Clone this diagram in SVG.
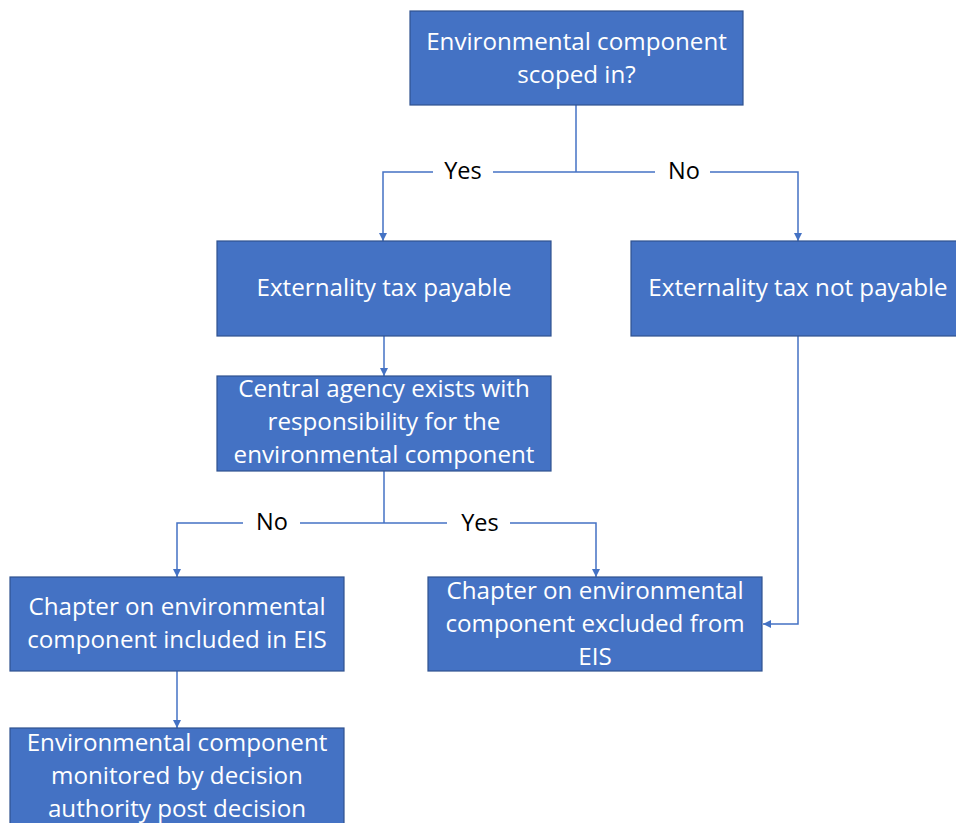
<svg xmlns="http://www.w3.org/2000/svg" width="956" height="823" viewBox="0 0 956 823">
<style>
.box{fill:#4472C4;stroke:#2F528F;stroke-width:1.2}
.t{font-family:"Open Sans","Liberation Sans",sans-serif;font-size:24.2px;fill:#ffffff;text-anchor:middle}
.lbl{font-family:"Open Sans","Liberation Sans",sans-serif;font-size:23.5px;fill:#000000;text-anchor:middle}
.ln{fill:none;stroke:#4472C4;stroke-width:1.5}
</style>
<defs>
<marker id="ah" viewBox="0 0 10 10" refX="10" refY="5" markerWidth="8" markerHeight="8" markerUnits="userSpaceOnUse" orient="auto">
<path d="M0,0 L10,5 L0,10 z" fill="#4472C4"/>
</marker>
</defs>
<rect width="956" height="823" fill="#ffffff"/>
<g id="connectors">
<path class="ln" d="M576,105 V172"/>
<path class="ln" d="M433,172 H383 V241" marker-end="url(#ah)"/>
<path class="ln" d="M493,172 H655"/>
<path class="ln" d="M710,172 H798 V241" marker-end="url(#ah)"/>
<path class="ln" d="M384,336 V376" marker-end="url(#ah)"/>
<path class="ln" d="M384,471 V523"/>
<path class="ln" d="M243,523 H177 V577" marker-end="url(#ah)"/>
<path class="ln" d="M300,523 H447"/>
<path class="ln" d="M510,523 H596 V577" marker-end="url(#ah)"/>
<path class="ln" d="M798,336 V624 H763" marker-end="url(#ah)"/>
<path class="ln" d="M177,671 V728" marker-end="url(#ah)"/>
<text class="lbl" x="463" y="179">Yes</text>
<text class="lbl" x="684" y="179">No</text>
<text class="lbl" x="272" y="530">No</text>
<text class="lbl" x="480" y="531">Yes</text>
</g>
<g id="n1">
<rect class="box" x="410" y="11" width="333" height="94"/>
<text class="t" x="576.5" y="50">Environmental component</text>
<text class="t" x="576.5" y="83">scoped in?</text>
</g>
<g id="n2">
<rect class="box" x="217" y="241" width="334" height="95"/>
<text class="t" x="384" y="296">Externality tax payable</text>
</g>
<g id="n3">
<rect class="box" x="631" y="241" width="335" height="95"/>
<text class="t" x="798" y="296">Externality tax not payable</text>
</g>
<g id="n4">
<rect class="box" x="217" y="376" width="334" height="95"/>
<text class="t" x="384" y="397">Central agency exists with</text>
<text class="t" x="384" y="430">responsibility for the</text>
<text class="t" x="384" y="463">environmental component</text>
</g>
<g id="n5">
<rect class="box" x="10" y="577" width="334" height="94"/>
<text class="t" x="177" y="615">Chapter on environmental</text>
<text class="t" x="177" y="648">component included in EIS</text>
</g>
<g id="n6">
<rect class="box" x="428" y="577" width="334" height="94"/>
<text class="t" x="595" y="599">Chapter on environmental</text>
<text class="t" x="595" y="632">component excluded from</text>
<text class="t" x="595" y="665">EIS</text>
</g>
<g id="n7">
<rect class="box" x="10" y="728" width="334" height="110"/>
<text class="t" x="177" y="751">Environmental component</text>
<text class="t" x="177" y="784">monitored by decision</text>
<text class="t" x="177" y="817">authority post decision</text>
</g>
</svg>
